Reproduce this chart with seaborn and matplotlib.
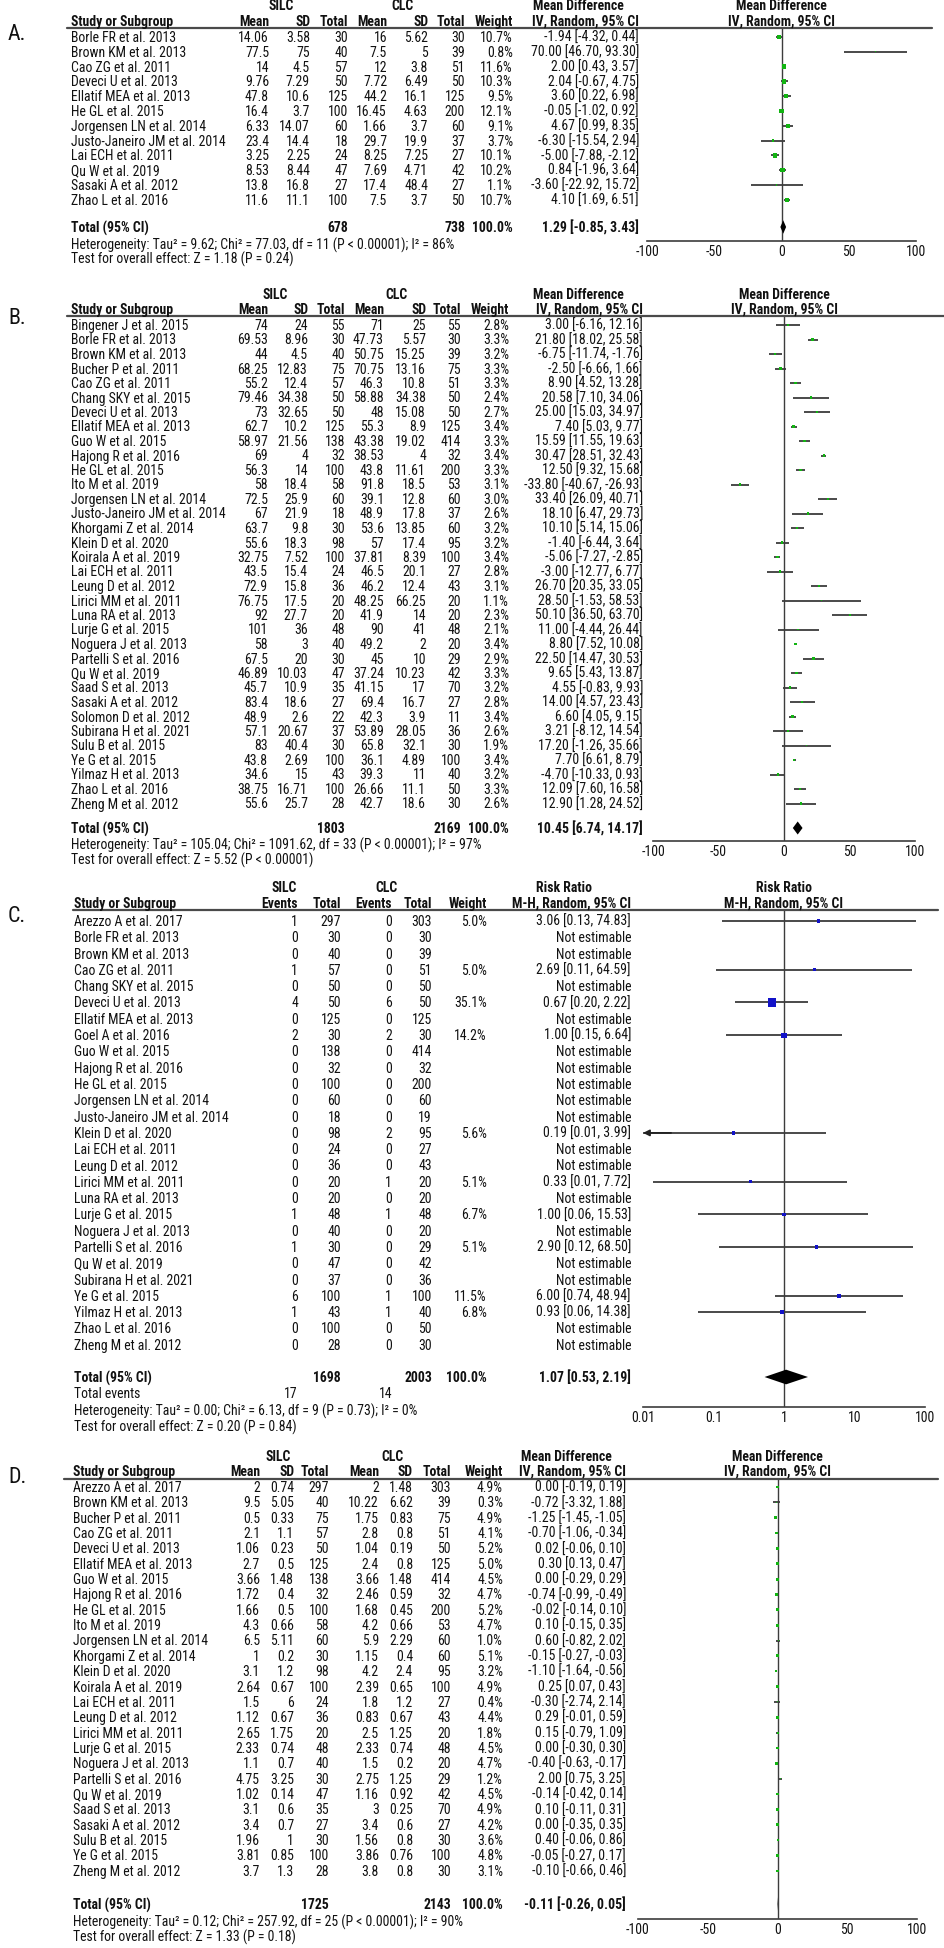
import re
import os
import seaborn as sns
import matplotlib.pyplot as plt
import numpy as np
import pandas as pd
from matplotlib import font_manager
from matplotlib.font_manager import FontProperties
from matplotlib.lines import Line2D
from matplotlib.textpath import TextPath

sns.set_style("white")

# pick a condensed face if one is installed (the original uses a narrow font)
PREF = ["liberationsansnarrow", "robotocondensed", "notosanssemicondensed", "notosanscondensed",
        "dejavusanscondensed", "opensanssemicondensed", "opensanscondensed"]


def _key(f):
    return re.sub(r"[^a-z]", "", (f.name + os.path.basename(f.fname)).lower())


def find_face(weight):
    for p in PREF:
        for f in font_manager.fontManager.ttflist:
            if f.style == "normal" and f.weight == weight and p in _key(f):
                return f.fname
    return None


REG_FILE = find_face(400)
BOLD_FILE = find_face(700) or REG_FILE
plt.rcParams["font.family"] = ["Liberation Sans", "DejaVu Sans"]


def fprop(bold=False, size=10):
    path = BOLD_FILE if bold else REG_FILE
    if path:
        return FontProperties(fname=path, size=size)
    return FontProperties(family=["Liberation Sans", "DejaVu Sans"], weight="bold" if bold else "normal", size=size)


# scale the font so a long study name is as wide as in the reference
_w = TextPath((0, 0), "Justo-Janeiro JM et al. 2014", size=10, prop=fprop()).get_extents().width * 100 / 72
FS = min(11, 10 * 154 / _w)

W, H = 944, 1949
GREEN = "#12b412"
BLUE = "#1212c8"
LINE = "#3c3c3c"
TXT = "#111111"

# ---------------- A. ----------------
studies_a = ["Borle FR et al. 2013", "Brown KM et al. 2013", "Cao ZG et al. 2011", "Deveci U et al. 2013",
             "Ellatif MEA et al. 2013", "He GL et al. 2015", "Jorgensen LN et al. 2014",
             "Justo-Janeiro JM et al. 2014", "Lai ECH et al. 2011", "Qu W et al. 2019",
             "Sasaki A et al. 2012", "Zhao L et al. 2016"]
silc_mean_a = ["14.06", "77.5", "14", "9.76", "47.8", "16.4", "6.33", "23.4", "3.25", "8.53", "13.8", "11.6"]
silc_sd_a = ["3.58", "75", "4.5", "7.29", "10.6", "3.7", "14.07", "14.4", "2.25", "8.44", "16.8", "11.1"]
silc_n_a = [30, 40, 57, 50, 125, 100, 60, 18, 24, 47, 27, 100]
clc_mean_a = ["16", "7.5", "12", "7.72", "44.2", "16.45", "1.66", "29.7", "8.25", "7.69", "17.4", "7.5"]
clc_sd_a = ["5.62", "5", "3.8", "6.49", "16.1", "4.63", "3.7", "19.9", "7.25", "4.71", "48.4", "3.7"]
clc_n_a = [30, 39, 51, 50, 125, 200, 60, 37, 27, 42, 27, 50]
weight_a = [10.7, 0.8, 11.6, 10.3, 9.5, 12.1, 9.1, 3.7, 10.1, 10.2, 1.1, 10.7]
md_a = [-1.94, 70.00, 2.00, 2.04, 3.60, -0.05, 4.67, -6.30, -5.00, 0.84, -3.60, 4.10]
lo_a = [-4.32, 46.70, 0.43, -0.67, 0.22, -1.02, 0.99, -15.54, -7.88, -1.96, -22.92, 1.69]
hi_a = [0.44, 93.30, 3.57, 4.75, 6.98, 0.92, 8.35, 2.94, -2.12, 3.64, 15.72, 6.51]
tot_n_a = [678, 738]
tot_a = [1.29, -0.85, 3.43]
het_a = "Heterogeneity: Tau² = 9.62; Chi² = 77.03, df = 11 (P < 0.00001); I² = 86%"
test_a = "Test for overall effect: Z = 1.18 (P = 0.24)"

# ---------------- B. ----------------
studies_b = ["Bingener J et al. 2015", "Borle FR et al. 2013", "Brown KM et al. 2013", "Bucher P et al. 2011",
             "Cao ZG et al. 2011", "Chang SKY et al. 2015", "Deveci U et al. 2013", "Ellatif MEA et al. 2013",
             "Guo W et al. 2015", "Hajong R et al. 2016", "He GL et al. 2015", "Ito M et al. 2019",
             "Jorgensen LN et al. 2014", "Justo-Janeiro JM et al. 2014", "Khorgami Z et al. 2014",
             "Klein D et al. 2020", "Koirala A et al. 2019", "Lai ECH et al. 2011", "Leung D et al. 2012",
             "Lirici MM et al. 2011", "Luna RA et al. 2013", "Lurje G et al. 2015", "Noguera J et al. 2013",
             "Partelli S et al. 2016", "Qu W et al. 2019", "Saad S et al. 2013", "Sasaki A et al. 2012",
             "Solomon D et al. 2012", "Subirana H et al. 2021", "Sulu B et al. 2015", "Ye G et al. 2015",
             "Yilmaz H et al. 2013", "Zhao L et al. 2016", "Zheng M et al. 2012"]
silc_mean_b = ["74", "69.53", "44", "68.25", "55.2", "79.46", "73", "62.7", "58.97", "69", "56.3", "58",
               "72.5", "67", "63.7", "55.6", "32.75", "43.5", "72.9", "76.75", "92", "101", "58", "67.5",
               "46.89", "45.7", "83.4", "48.9", "57.1", "83", "43.8", "34.6", "38.75", "55.6"]
silc_sd_b = ["24", "8.96", "4.5", "12.83", "12.4", "34.38", "32.65", "10.2", "21.56", "4", "14", "18.4",
             "25.9", "21.9", "9.8", "18.3", "7.52", "15.4", "15.8", "17.5", "27.7", "36", "3", "20",
             "10.03", "10.9", "18.6", "2.6", "20.67", "40.4", "2.69", "15", "16.71", "25.7"]
silc_n_b = [55, 30, 40, 75, 57, 50, 50, 125, 138, 32, 100, 58, 60, 18, 30, 98, 100, 24, 36, 20, 20, 48,
            40, 30, 47, 35, 27, 22, 37, 30, 100, 43, 100, 28]
clc_mean_b = ["71", "47.73", "50.75", "70.75", "46.3", "58.88", "48", "55.3", "43.38", "38.53", "43.8",
              "91.8", "39.1", "48.9", "53.6", "57", "37.81", "46.5", "46.2", "48.25", "41.9", "90", "49.2",
              "45", "37.24", "41.15", "69.4", "42.3", "53.89", "65.8", "36.1", "39.3", "26.66", "42.7"]
clc_sd_b = ["25", "5.57", "15.25", "13.16", "10.8", "34.38", "15.08", "8.9", "19.02", "4", "11.61", "18.5",
            "12.8", "17.8", "13.85", "17.4", "8.39", "20.1", "12.4", "66.25", "14", "41", "2", "10",
            "10.23", "17", "16.7", "3.9", "28.05", "32.1", "4.89", "11", "11.1", "18.6"]
clc_n_b = [55, 30, 39, 75, 51, 50, 50, 125, 414, 32, 200, 53, 60, 37, 60, 95, 100, 27, 43, 20, 20, 48,
           20, 29, 42, 70, 27, 11, 36, 30, 100, 40, 50, 30]
weight_b = [2.8, 3.3, 3.2, 3.3, 3.3, 2.4, 2.7, 3.4, 3.3, 3.4, 3.3, 3.1, 3.0, 2.6, 3.2, 3.2, 3.4, 2.8,
            3.1, 1.1, 2.3, 2.1, 3.4, 2.9, 3.3, 3.2, 2.8, 3.4, 2.6, 1.9, 3.4, 3.2, 3.3, 2.6]
md_b = [3.00, 21.80, -6.75, -2.50, 8.90, 20.58, 25.00, 7.40, 15.59, 30.47, 12.50, -33.80, 33.40, 18.10,
        10.10, -1.40, -5.06, -3.00, 26.70, 28.50, 50.10, 11.00, 8.80, 22.50, 9.65, 4.55, 14.00, 6.60,
        3.21, 17.20, 7.70, -4.70, 12.09, 12.90]
lo_b = [-6.16, 18.02, -11.74, -6.66, 4.52, 7.10, 15.03, 5.03, 11.55, 28.51, 9.32, -40.67, 26.09, 6.47,
        5.14, -6.44, -7.27, -12.77, 20.35, -1.53, 36.50, -4.44, 7.52, 14.47, 5.43, -0.83, 4.57, 4.05,
        -8.12, -1.26, 6.61, -10.33, 7.60, 1.28]
hi_b = [12.16, 25.58, -1.76, 1.66, 13.28, 34.06, 34.97, 9.77, 19.63, 32.43, 15.68, -26.93, 40.71, 29.73,
        15.06, 3.64, -2.85, 6.77, 33.05, 58.53, 63.70, 26.44, 10.08, 30.53, 13.87, 9.93, 23.43, 9.15,
        14.54, 35.66, 8.79, 0.93, 16.58, 24.52]
tot_n_b = [1803, 2169]
tot_b = [10.45, 6.74, 14.17]
het_b = "Heterogeneity: Tau² = 105.04; Chi² = 1091.62, df = 33 (P < 0.00001); I² = 97%"
test_b = "Test for overall effect: Z = 5.52 (P < 0.00001)"

# ---------------- C. ----------------
studies_c = ["Arezzo A et al. 2017", "Borle FR et al. 2013", "Brown KM et al. 2013", "Cao ZG et al. 2011",
             "Chang SKY et al. 2015", "Deveci U et al. 2013", "Ellatif MEA et al. 2013", "Goel A et al. 2016",
             "Guo W et al. 2015", "Hajong R et al. 2016", "He GL et al. 2015", "Jorgensen LN et al. 2014",
             "Justo-Janeiro JM et al. 2014", "Klein D et al. 2020", "Lai ECH et al. 2011",
             "Leung D et al. 2012", "Lirici MM et al. 2011", "Luna RA et al. 2013", "Lurje G et al. 2015",
             "Noguera J et al. 2013", "Partelli S et al. 2016", "Qu W et al. 2019", "Subirana H et al. 2021",
             "Ye G et al. 2015", "Yilmaz H et al. 2013", "Zhao L et al. 2016", "Zheng M et al. 2012"]
silc_ev_c = [1, 0, 0, 1, 0, 4, 0, 2, 0, 0, 0, 0, 0, 0, 0, 0, 0, 0, 1, 0, 1, 0, 0, 6, 1, 0, 0]
silc_n_c = [297, 30, 40, 57, 50, 50, 125, 30, 138, 32, 100, 60, 18, 98, 24, 36, 20, 20, 48, 40, 30, 47,
            37, 100, 43, 100, 28]
clc_ev_c = [0, 0, 0, 0, 0, 6, 0, 2, 0, 0, 0, 0, 0, 2, 0, 0, 1, 0, 1, 0, 0, 0, 0, 1, 1, 0, 0]
clc_n_c = [303, 30, 39, 51, 50, 50, 125, 30, 414, 32, 200, 60, 19, 95, 27, 43, 20, 20, 48, 20, 29, 42,
           36, 100, 40, 50, 30]
nan = np.nan
weight_c = [5.0, nan, nan, 5.0, nan, 35.1, nan, 14.2, nan, nan, nan, nan, nan, 5.6, nan, nan, 5.1, nan,
            6.7, nan, 5.1, nan, nan, 11.5, 6.8, nan, nan]
rr_c = [3.06, nan, nan, 2.69, nan, 0.67, nan, 1.00, nan, nan, nan, nan, nan, 0.19, nan, nan, 0.33, nan,
        1.00, nan, 2.90, nan, nan, 6.00, 0.93, nan, nan]
lo_c = [0.13, nan, nan, 0.11, nan, 0.20, nan, 0.15, nan, nan, nan, nan, nan, 0.009, nan, nan, 0.014, nan,
        0.06, nan, 0.12, nan, nan, 0.74, 0.06, nan, nan]
hi_c = [74.83, nan, nan, 64.59, nan, 2.22, nan, 6.64, nan, nan, nan, nan, nan, 3.99, nan, nan, 7.72, nan,
        15.53, nan, 68.50, nan, nan, 48.94, 14.38, nan, nan]
tot_n_c = [1698, 2003]
tot_ev_c = [17, 14]
tot_c = [1.07, 0.53, 2.19]
het_c = "Heterogeneity: Tau² = 0.00; Chi² = 6.13, df = 9 (P = 0.73); I² = 0%"
test_c = "Test for overall effect: Z = 0.20 (P = 0.84)"

# ---------------- D. ----------------
studies_d = ["Arezzo A et al. 2017", "Brown KM et al. 2013", "Bucher P et al. 2011", "Cao ZG et al. 2011",
             "Deveci U et al. 2013", "Ellatif MEA et al. 2013", "Guo W et al. 2015", "Hajong R et al. 2016",
             "He GL et al. 2015", "Ito M et al. 2019", "Jorgensen LN et al. 2014", "Khorgami Z et al. 2014",
             "Klein D et al. 2020", "Koirala A et al. 2019", "Lai ECH et al. 2011", "Leung D et al. 2012",
             "Lirici MM et al. 2011", "Lurje G et al. 2015", "Noguera J et al. 2013", "Partelli S et al. 2016",
             "Qu W et al. 2019", "Saad S et al. 2013", "Sasaki A et al. 2012", "Sulu B et al. 2015",
             "Ye G et al. 2015", "Zheng M et al. 2012"]
silc_mean_d = ["2", "9.5", "0.5", "2.1", "1.06", "2.7", "3.66", "1.72", "1.66", "4.3", "6.5", "1", "3.1",
               "2.64", "1.5", "1.12", "2.65", "2.33", "1.1", "4.75", "1.02", "3.1", "3.4", "1.96", "3.81", "3.7"]
silc_sd_d = ["0.74", "5.05", "0.33", "1.1", "0.23", "0.5", "1.48", "0.4", "0.5", "0.66", "5.11", "0.2", "1.2",
             "0.67", "6", "0.67", "1.75", "0.74", "0.7", "3.25", "0.14", "0.6", "0.7", "1", "0.85", "1.3"]
silc_n_d = [297, 40, 75, 57, 50, 125, 138, 32, 100, 58, 60, 30, 98, 100, 24, 36, 20, 48, 40, 30, 47, 35,
            27, 30, 100, 28]
clc_mean_d = ["2", "10.22", "1.75", "2.8", "1.04", "2.4", "3.66", "2.46", "1.68", "4.2", "5.9", "1.15", "4.2",
              "2.39", "1.8", "0.83", "2.5", "2.33", "1.5", "2.75", "1.16", "3", "3.4", "1.56", "3.86", "3.8"]
clc_sd_d = ["1.48", "6.62", "0.83", "0.8", "0.19", "0.8", "1.48", "0.59", "0.45", "0.66", "2.29", "0.4", "2.4",
            "0.65", "1.2", "0.67", "1.25", "0.74", "0.2", "1.25", "0.92", "0.25", "0.6", "0.8", "0.76", "0.8"]
clc_n_d = [303, 39, 75, 51, 50, 125, 414, 32, 200, 53, 60, 60, 95, 100, 27, 43, 20, 48, 20, 29, 42, 70,
           27, 30, 100, 30]
weight_d = [4.9, 0.3, 4.9, 4.1, 5.2, 5.0, 4.5, 4.7, 5.2, 4.7, 1.0, 5.1, 3.2, 4.9, 0.4, 4.4, 1.8, 4.5, 4.7,
            1.2, 4.5, 4.9, 4.2, 3.6, 4.8, 3.1]
md_d = [0.00, -0.72, -1.25, -0.70, 0.02, 0.30, 0.00, -0.74, -0.02, 0.10, 0.60, -0.15, -1.10, 0.25, -0.30,
        0.29, 0.15, 0.00, -0.40, 2.00, -0.14, 0.10, 0.00, 0.40, -0.05, -0.10]
lo_d = [-0.19, -3.32, -1.45, -1.06, -0.06, 0.13, -0.29, -0.99, -0.14, -0.15, -0.82, -0.27, -1.64, 0.07,
        -2.74, -0.01, -0.79, -0.30, -0.63, 0.75, -0.42, -0.11, -0.35, -0.06, -0.27, -0.66]
hi_d = [0.19, 1.88, -1.05, -0.34, 0.10, 0.47, 0.29, -0.49, 0.10, 0.35, 2.02, -0.03, -0.56, 0.43, 2.14,
        0.59, 1.09, 0.30, -0.17, 3.25, 0.14, 0.31, 0.35, 0.86, 0.17, 0.46]
tot_n_d = [1725, 2143]
tot_d = [-0.11, -0.26, 0.05]
het_d = "Heterogeneity: Tau² = 0.12; Chi² = 257.92, df = 25 (P < 0.00001); I² = 90%"
test_d = "Test for overall effect: Z = 1.33 (P = 0.18)"

# ---------------- layout (pixels from top-left) ----------------
lay_a = dict(tag="A.", tag_y=34, h1=6, h2=22, line=29, line_x=(67, 932), first=38, step=14.8,
             total=228, het=245, test=259, axis=242, plot=(647, 916), sx=71,
             cols=[269, 310, 348, 387, 428, 465, 513], ci=639, silc=281, clc=402, eff=578, right=781)
lay_b = dict(tag="B.", tag_y=318, h1=295, h2=310, line=317, line_x=(67, 944), first=326, step=14.5,
             total=829, het=845, test=860, axis=842, plot=(653, 915), sx=71,
             cols=[268, 308, 345, 384, 426, 461, 509], ci=643, silc=275, clc=396, eff=578, right=784)
lay_c = dict(tag="C.", tag_y=917, h1=888, h2=904, line=911, line_x=(73, 938), first=922, step=16.3,
             total=1378, tev=1394, het=1411, test=1427, axis=1408, plot=(643, 925), sx=74,
             cols=[298, 341, 392, 432, 487], ci=631, silc=284, clc=386, eff=564, right=784)
lay_d = dict(tag="D.", tag_y=1478, h1=1457, h2=1472, line=1480, line_x=(64, 938), first=1488, step=15.35,
             total=1905, het=1922, test=1937, axis=1920, plot=(638, 917), sx=73,
             cols=[260, 294, 329, 379, 413, 451, 503], ci=626, silc=278, clc=392, eff=566, right=777)

fig = plt.figure(figsize=(W / 100, H / 100), dpi=100)


def put(x, y, s, ha="right", size=None, bold=False):
    fig.text(x / W, 1 - y / H, s, ha=ha, va="center", color=TXT,
             fontproperties=fprop(bold, size or FS))


def rule(x0, x1, y):
    fig.add_artist(Line2D([x0 / W, x1 / W], [1 - y / H, 1 - y / H], lw=1.6, color="#4a4a4a"))


def ci_text(m, l, h):
    if np.isnan(m):
        return "Not estimable"
    return f"{m:.2f} [{l:.2f}, {h:.2f}]"


def header(lay, sub, eff_title, eff_sub):
    put(8, lay["tag_y"], lay["tag"], ha="left", size=FS * 1.6)
    put(lay["silc"], lay["h1"], "SILC", ha="center", bold=True)
    put(lay["clc"], lay["h1"], "CLC", ha="center", bold=True)
    put(lay["eff"], lay["h1"], eff_title, ha="center", bold=True)
    put(lay["right"], lay["h1"], eff_title, ha="center", bold=True)
    put(lay["sx"], lay["h2"], "Study or Subgroup", ha="left", bold=True)
    for x, s in zip(lay["cols"], sub):
        put(x, lay["h2"], s, bold=True)
    put(lay["ci"], lay["h2"], eff_sub, bold=True)
    put(lay["right"], lay["h2"], eff_sub, ha="center", bold=True)
    rule(*lay["line_x"], lay["line"])


def body(lay, studies, columns, weights, est, lo, hi, tot_n, tot, het, test):
    for i, name in enumerate(studies):
        y = lay["first"] + i * lay["step"]
        put(lay["sx"], y, name, ha="left")
        for x, col in zip(lay["cols"], columns):
            put(x, y, str(col[i]))
        if not np.isnan(weights[i]):
            put(lay["cols"][-1], y, f"{weights[i]:.1f}%")
        put(lay["ci"], y, ci_text(est[i], lo[i], hi[i]))
    y = lay["total"]
    put(lay["sx"], y, "Total (95% CI)", ha="left", bold=True)
    nc = len(columns)
    put(lay["cols"][nc // 2 - 1], y, str(tot_n[0]), bold=True)
    put(lay["cols"][nc - 1], y, str(tot_n[1]), bold=True)
    put(lay["cols"][-1], y, "100.0%", bold=True)
    put(lay["ci"], y, ci_text(*tot), bold=True)
    put(lay["sx"], lay["het"], het, ha="left")
    put(lay["sx"], lay["test"], test, ha="left")


def forest(lay, est, lo, hi, wt, tot, color, log=False):
    left, right = lay["plot"]
    ax = fig.add_axes([left / W, 1 - lay["axis"] / H, (right - left) / W, (lay["axis"] - lay["line"]) / H])
    df = pd.DataFrame({"est": est, "lo": lo, "hi": hi, "w": wt, "row": np.arange(len(est))}).dropna()
    if log:
        ax.set_xscale("log")
        xmin, xmax, ref = 0.01, 100, 1
        ticks, labels = [0.01, 0.1, 1, 10, 100], ["0.01", "0.1", "1", "10", "100"]
    else:
        xmin, xmax, ref = -100, 100, 0
        ticks, labels = [-100, -50, 0, 50, 100], ["-100", "-50", "0", "50", "100"]
    ax.set_xlim(xmin, xmax)
    ax.set_ylim((lay["axis"] - lay["first"]) / lay["step"], (lay["line"] - lay["first"]) / lay["step"])
    ax.axvline(ref, color=LINE, lw=1.0, zorder=1)
    ax.hlines(df["row"], df["lo"].clip(lower=xmin), df["hi"].clip(upper=xmax), color=LINE, lw=1.3, zorder=2)
    for r in df[df["lo"] < xmin].itertuples():
        ax.annotate("", xy=(xmin, r.row), xytext=(xmin * 2.5 if log else xmin + 15, r.row),
                    arrowprops=dict(arrowstyle="-|>", color="#222222", lw=1.3, mutation_scale=9,
                                    shrinkA=0, shrinkB=0), annotation_clip=False)
    sns.scatterplot(data=df, x="est", y="row", size="w", sizes=(0, 38), size_norm=(0, 40), marker="s",
                    color=color, linewidth=0, legend=False, ax=ax, zorder=3)
    ty = (lay["total"] - lay["first"]) / lay["step"]
    m, l, h = tot
    ax.fill([l, m, h, m], [ty, ty - 0.45, ty, ty + 0.45], color="black", lw=0, zorder=3)
    for s in ["top", "left", "right"]:
        ax.spines[s].set_visible(False)
    ax.spines["bottom"].set_color(LINE)
    ax.spines["bottom"].set_linewidth(1.2)
    ax.set_xticks(ticks)
    ax.set_xticklabels(labels)
    ax.minorticks_off()
    ax.tick_params(axis="x", direction="in", length=5, width=1.1, color=LINE, pad=2, labelcolor=TXT)
    for lab in ax.get_xticklabels():
        lab.set_fontproperties(fprop(False, FS))
    ax.set_yticks([])
    ax.set_xlabel("")
    ax.set_ylabel("")
    ax.patch.set_alpha(0)


md_sub = ["Mean", "SD", "Total", "Mean", "SD", "Total", "Weight"]

header(lay_a, md_sub, "Mean Difference", "IV, Random, 95% CI")
body(lay_a, studies_a, [silc_mean_a, silc_sd_a, silc_n_a, clc_mean_a, clc_sd_a, clc_n_a],
     weight_a, md_a, lo_a, hi_a, tot_n_a, tot_a, het_a, test_a)
forest(lay_a, md_a, lo_a, hi_a, weight_a, tot_a, GREEN)

header(lay_b, md_sub, "Mean Difference", "IV, Random, 95% CI")
body(lay_b, studies_b, [silc_mean_b, silc_sd_b, silc_n_b, clc_mean_b, clc_sd_b, clc_n_b],
     weight_b, md_b, lo_b, hi_b, tot_n_b, tot_b, het_b, test_b)
forest(lay_b, md_b, lo_b, hi_b, weight_b, tot_b, GREEN)

header(lay_c, ["Events", "Total", "Events", "Total", "Weight"], "Risk Ratio", "M-H, Random, 95% CI")
body(lay_c, studies_c, [silc_ev_c, silc_n_c, clc_ev_c, clc_n_c],
     weight_c, rr_c, lo_c, hi_c, tot_n_c, tot_c, het_c, test_c)
put(lay_c["sx"], lay_c["tev"], "Total events", ha="left")
put(lay_c["cols"][0], lay_c["tev"], str(tot_ev_c[0]))
put(lay_c["cols"][2], lay_c["tev"], str(tot_ev_c[1]))
forest(lay_c, rr_c, lo_c, hi_c, weight_c, tot_c, BLUE, log=True)

header(lay_d, md_sub, "Mean Difference", "IV, Random, 95% CI")
body(lay_d, studies_d, [silc_mean_d, silc_sd_d, silc_n_d, clc_mean_d, clc_sd_d, clc_n_d],
     weight_d, md_d, lo_d, hi_d, tot_n_d, tot_d, het_d, test_d)
forest(lay_d, md_d, lo_d, hi_d, weight_d, tot_d, GREEN)

fig.savefig("out.png", dpi=100, facecolor="white")
